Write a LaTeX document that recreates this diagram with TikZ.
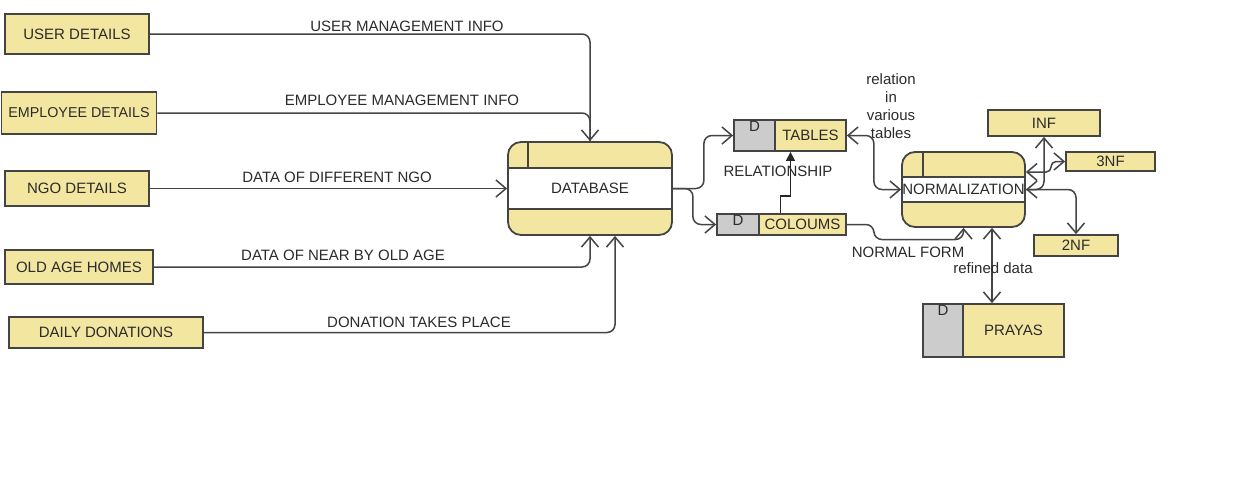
\documentclass[tikz,border=0pt]{standalone}
\usepackage{fontspec}
\setmainfont{Liberation Sans}
\usetikzlibrary{arrows.meta}
\definecolor{yel}{HTML}{F3E6A0}
\definecolor{gry}{HTML}{CCCCCC}
\definecolor{lc}{HTML}{444444}
\definecolor{tc}{HTML}{2B2B2B}
\begin{document}
\begin{tikzpicture}[x=1pt,y=-1pt,
  font=\fontsize{15}{18}\selectfont, text=tc,
  ent/.style={draw=lc, fill=yel, line width=1.8pt, inner sep=0pt},
  sd/.style={draw=lc, fill=gry, line width=1.8pt, inner sep=0pt,
    label={[anchor=north, inner sep=2pt, text=tc]north:D}},
  proc/.style n args={3}{draw=lc, fill=yel, line width=1.8pt, rounded corners=13pt, inner sep=0pt,
    path picture={
      \fill[white, sharp corners] ([yshift=-#1]path picture bounding box.north west) rectangle ([yshift=-#2]path picture bounding box.north east);
      \draw[lc, line width=1.6pt, sharp corners]
        ([yshift=-#1]path picture bounding box.north west) -- ([yshift=-#1]path picture bounding box.north east)
        ([yshift=-#2]path picture bounding box.north west) -- ([yshift=-#2]path picture bounding box.north east)
        ([xshift=#3]path picture bounding box.north west) -- ([xshift=#3,yshift=-#1]path picture bounding box.north west);
    }},
  lab/.style={inner sep=0pt, text=tc},
  tip/.tip={Straight Barb[length=10pt,width=17pt,line width=1.5pt]},
  flow/.style={draw=lc, line width=1.5pt, rounded corners=8pt, -tip},
  flowb/.style={draw=lc, line width=1.5pt, rounded corners=8pt, tip-tip},
  plain/.style={draw=lc, line width=1.5pt, rounded corners=8pt},
  rel/.style={draw=black!85, line width=1.5pt, -{Triangle[length=9pt,width=9pt]}}
]
\useasboundingbox (0,0) rectangle (1237,480);
\fill[white] (0,0) rectangle (1237,480);

% external entities
\node[ent, minimum width=144pt, minimum height=40pt] (user) at (77,34) {USER DETAILS};
\node[ent, minimum width=155pt, minimum height=42pt, font=\fontsize{14.3}{17}\selectfont] (emp) at (79,113) {EMPLOYEE DETAILS};
\node[ent, minimum width=144pt, minimum height=35pt] (ngo) at (77,188.5) {NGO DETAILS};
\node[ent, minimum width=148pt, minimum height=34pt] (old) at (79,267) {OLD AGE HOMES};
\node[ent, minimum width=194pt, minimum height=31pt] (daily) at (106,332.5) {DAILY DONATIONS};

% processes
\node[proc={26pt}{67pt}{20pt}, minimum width=164pt, minimum height=93pt] (db) at (590,188.5) {DATABASE};
\node[proc={25pt}{50pt}{21pt}, minimum width=123pt, minimum height=75pt] (norm) at (963.5,189.5) {NORMALIZATION};

% data stores
\node[sd, minimum width=41pt, minimum height=31pt] (tabD) at (754.5,135.5) {};
\node[ent, minimum width=71pt, minimum height=31pt] (tab) at (810.5,135.5) {TABLES};
\node[sd, minimum width=42pt, minimum height=21pt] (colD) at (738,224.5) {};
\node[ent, minimum width=87pt, minimum height=21pt] (col) at (802.5,224.5) {COLOUMS};
\node[sd, minimum width=40pt, minimum height=53pt] (prD) at (943,330.5) {};
\node[ent, minimum width=101pt, minimum height=53pt] (pr) at (1013.5,330.5) {PRAYAS};

% normal forms
\node[ent, minimum width=112pt, minimum height=26pt] (inf) at (1044,123) {INF};
\node[ent, minimum width=89pt, minimum height=19pt] (n3) at (1110.5,161.5) {3NF};
\node[ent, minimum width=84pt, minimum height=21pt] (n2) at (1076,245.5) {2NF};

% flows into database
\draw[flow] (user.east) -| (db.north);
\draw[plain] (emp.east) -| (db.north);
\draw[flow] (ngo.east) -- (db.west);
\draw[flow] (old.east) -| (db.south);
\draw[flow] (daily.east) -| ([xshift=25pt]db.south);

% database to stores
\draw[flow] (db.east) -- ++(31,0) |- (tabD.west);
\draw[flow] (db.east) -- ++(20,0) |- (colD.west);

% relationship
\draw[rel] ([xshift=-22pt]col.north) -- ++(0,-17) -| ([xshift=-20pt]tab.south);

% tables <-> normalization
\draw[flowb] (tab.east) -- ++(27,0) |- (norm.west);
% coloums -> normalization
\draw[flow] (col.east) -- ++(27,0) -- ++(0,15) -| (norm.south);
% normalization <-> prayas
\coordinate (r1) at ([xshift=28.5pt]norm.south);
\draw[flowb] (r1) -- (r1 |- pr.north);
% normal forms
\draw[flowb] (inf.south) |- (norm.east);
\draw[flowb, rounded corners=5pt] (n3.west) -- ++(-14,0) |- ([yshift=17.5pt]norm.east);
\draw[flow] (norm.east) -| (n2.north);

% labels
\node[lab] (l1) at (407,26) {USER MANAGEMENT INFO};
\node[lab] (l2) at (402,100) {EMPLOYEE MANAGEMENT INFO};
\node[lab] (l3) at (337,177) {DATA OF DIFFERENT NGO};
\node[lab] (l4) at (343,255) {DATA OF NEAR BY OLD AGE};
\node[lab] (l5) at (419,322) {DONATION TAKES PLACE};
\node[lab] (l6) at (778,171) {RELATIONSHIP};
\node[lab, align=center] (l7) at (891,106) {relation\\in\\various\\tables};
\node[lab] (l8) at (908,252) {NORMAL FORM};
\node[lab] (l9) at (993,268) {refined data};
\end{tikzpicture}
\end{document}
